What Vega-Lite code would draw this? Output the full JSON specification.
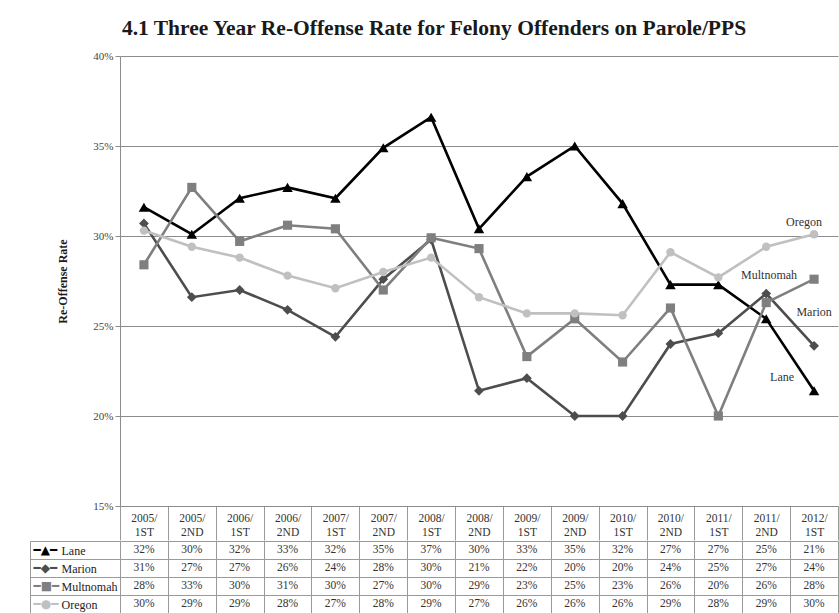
{
  "$schema": "https://vega.github.io/schema/vega-lite/v6.json",
  "background": "white",
  "padding": {"left": 29, "top": 17, "right": 0, "bottom": 0},
  "title": {
    "text": "4.1 Three Year Re-Offense Rate for Felony Offenders on Parole/PPS",
    "font": "Liberation Serif",
    "fontSize": 21.5,
    "fontWeight": "bold",
    "color": "#1a1a1a",
    "anchor": "middle",
    "offset": 11
  },
  "config": {
    "view": {"stroke": null},
    "font": "Liberation Serif",
    "axis": {"labelFont": "Liberation Serif", "titleFont": "Liberation Serif"}
  },
  "datasets": {
    "d": [
      {"period": "2005/1ST", "series": "Lane", "value": 0.316},
      {"period": "2005/2ND", "series": "Lane", "value": 0.301},
      {"period": "2006/1ST", "series": "Lane", "value": 0.321},
      {"period": "2006/2ND", "series": "Lane", "value": 0.327},
      {"period": "2007/1ST", "series": "Lane", "value": 0.321},
      {"period": "2007/2ND", "series": "Lane", "value": 0.349},
      {"period": "2008/1ST", "series": "Lane", "value": 0.366},
      {"period": "2008/2ND", "series": "Lane", "value": 0.304},
      {"period": "2009/1ST", "series": "Lane", "value": 0.333},
      {"period": "2009/2ND", "series": "Lane", "value": 0.35},
      {"period": "2010/1ST", "series": "Lane", "value": 0.318},
      {"period": "2010/2ND", "series": "Lane", "value": 0.273},
      {"period": "2011/1ST", "series": "Lane", "value": 0.273},
      {"period": "2011/2ND", "series": "Lane", "value": 0.254},
      {"period": "2012/1ST", "series": "Lane", "value": 0.214},
      {"period": "2005/1ST", "series": "Marion", "value": 0.307},
      {"period": "2005/2ND", "series": "Marion", "value": 0.266},
      {"period": "2006/1ST", "series": "Marion", "value": 0.27},
      {"period": "2006/2ND", "series": "Marion", "value": 0.259},
      {"period": "2007/1ST", "series": "Marion", "value": 0.244},
      {"period": "2007/2ND", "series": "Marion", "value": 0.276},
      {"period": "2008/1ST", "series": "Marion", "value": 0.298},
      {"period": "2008/2ND", "series": "Marion", "value": 0.214},
      {"period": "2009/1ST", "series": "Marion", "value": 0.221},
      {"period": "2009/2ND", "series": "Marion", "value": 0.2},
      {"period": "2010/1ST", "series": "Marion", "value": 0.2},
      {"period": "2010/2ND", "series": "Marion", "value": 0.24},
      {"period": "2011/1ST", "series": "Marion", "value": 0.246},
      {"period": "2011/2ND", "series": "Marion", "value": 0.268},
      {"period": "2012/1ST", "series": "Marion", "value": 0.239},
      {"period": "2005/1ST", "series": "Multnomah", "value": 0.284},
      {"period": "2005/2ND", "series": "Multnomah", "value": 0.327},
      {"period": "2006/1ST", "series": "Multnomah", "value": 0.297},
      {"period": "2006/2ND", "series": "Multnomah", "value": 0.306},
      {"period": "2007/1ST", "series": "Multnomah", "value": 0.304},
      {"period": "2007/2ND", "series": "Multnomah", "value": 0.27},
      {"period": "2008/1ST", "series": "Multnomah", "value": 0.299},
      {"period": "2008/2ND", "series": "Multnomah", "value": 0.293},
      {"period": "2009/1ST", "series": "Multnomah", "value": 0.233},
      {"period": "2009/2ND", "series": "Multnomah", "value": 0.254},
      {"period": "2010/1ST", "series": "Multnomah", "value": 0.23},
      {"period": "2010/2ND", "series": "Multnomah", "value": 0.26},
      {"period": "2011/1ST", "series": "Multnomah", "value": 0.2},
      {"period": "2011/2ND", "series": "Multnomah", "value": 0.263},
      {"period": "2012/1ST", "series": "Multnomah", "value": 0.276},
      {"period": "2005/1ST", "series": "Oregon", "value": 0.303},
      {"period": "2005/2ND", "series": "Oregon", "value": 0.294},
      {"period": "2006/1ST", "series": "Oregon", "value": 0.288},
      {"period": "2006/2ND", "series": "Oregon", "value": 0.278},
      {"period": "2007/1ST", "series": "Oregon", "value": 0.271},
      {"period": "2007/2ND", "series": "Oregon", "value": 0.28},
      {"period": "2008/1ST", "series": "Oregon", "value": 0.288},
      {"period": "2008/2ND", "series": "Oregon", "value": 0.266},
      {"period": "2009/1ST", "series": "Oregon", "value": 0.257},
      {"period": "2009/2ND", "series": "Oregon", "value": 0.257},
      {"period": "2010/1ST", "series": "Oregon", "value": 0.256},
      {"period": "2010/2ND", "series": "Oregon", "value": 0.291},
      {"period": "2011/1ST", "series": "Oregon", "value": 0.277},
      {"period": "2011/2ND", "series": "Oregon", "value": 0.294},
      {"period": "2012/1ST", "series": "Oregon", "value": 0.301}
    ]
  },
  "vconcat": [
    {
      "width": 718,
      "height": 450,
      "data": {"name": "d"},
      "encoding": {
        "x": {
          "field": "period", "type": "ordinal", "sort": null,
          "scale": {"paddingInner": 0, "paddingOuter": 0},
          "axis": {
            "title": null, "orient": "bottom", "tickBand": "extent", "tickSize": 34,
            "tickColor": "#9a9a9a", "domainColor": "#8c8c8c", "labelAngle": 0,
            "labelExpr": "isValid(datum.value) ? [substring(datum.value,0,5), substring(datum.value,5)] : ''",
            "labelPadding": -28, "labelBaseline": "top", "labelFontSize": 11.5,
            "labelLineHeight": 14, "labelColor": "#333", "labelOverlap": false
          }
        },
        "y": {
          "field": "value", "type": "quantitative",
          "scale": {"domain": [0.15, 0.40], "nice": false, "zero": false},
          "axis": {
            "title": "Re-Offense Rate", "titleFontSize": 12, "titleFontWeight": "bold",
            "titleColor": "#1a1a1a", "titlePadding": 23,
            "values": [0.15, 0.2, 0.25, 0.3, 0.35, 0.4], "format": ".0%",
            "labelFontSize": 11, "labelColor": "#444", "tickSize": 5, "tickColor": "#8c8c8c",
            "domainColor": "#8c8c8c", "grid": true, "gridColor": "#8c8c8c", "gridOpacity": 1
          }
        },
        "color": {
          "field": "series", "type": "nominal",
          "scale": {"domain": ["Lane", "Marion", "Multnomah", "Oregon"], "range": ["#000000", "#4d4d4d", "#7f7f7f", "#c0c0c0"]},
          "legend": null
        }
      },
      "layer": [
        {"mark": {"type": "line", "strokeWidth": 2.6}},
        {
          "mark": {"type": "point", "filled": true, "opacity": 1},
          "encoding": {
            "shape": {"field": "series", "type": "nominal", "scale": {"domain": ["Lane", "Marion", "Multnomah", "Oregon"], "range": ["triangle-up", "diamond", "square", "circle"]}, "legend": null},
            "size": {"field": "series", "type": "nominal", "scale": {"domain": ["Lane", "Marion", "Multnomah", "Oregon"], "range": [110, 70, 80, 85]}, "legend": null}
          }
        },
        {
          "transform": [{"filter": "datum.series === 'Oregon' && datum.period === '2012/1ST'"}],
          "mark": {"type": "text", "dx": -10, "dy": -12, "fontSize": 12, "color": "#333"},
          "encoding": {"text": {"field": "series"}, "color": {"value": "#333"}}
        },
        {
          "transform": [{"filter": "datum.series === 'Multnomah' && datum.period === '2012/1ST'"}],
          "mark": {"type": "text", "dx": -45, "dy": -4, "fontSize": 12, "color": "#333"},
          "encoding": {"text": {"field": "series"}, "color": {"value": "#333"}}
        },
        {
          "transform": [{"filter": "datum.series === 'Marion' && datum.period === '2012/1ST'"}],
          "mark": {"type": "text", "dx": 0, "dy": -34, "fontSize": 12, "color": "#333"},
          "encoding": {"text": {"field": "series"}, "color": {"value": "#333"}}
        },
        {
          "transform": [{"filter": "datum.series === 'Lane' && datum.period === '2012/1ST'"}],
          "mark": {"type": "text", "dx": -32, "dy": -14, "fontSize": 12, "color": "#333"},
          "encoding": {"text": {"field": "series"}, "color": {"value": "#333"}}
        }
      ]
    },
    {
      "width": 718,
      "height": 72,
      "data": {"name": "d"},
      "layer": [
        {
          "mark": {"type": "text", "fontSize": 11.5, "color": "#333"},
          "encoding": {
            "x": {
              "field": "period", "type": "ordinal", "sort": null,
              "scale": {"paddingInner": 0, "paddingOuter": 0},
              "axis": {"title": null, "labels": false, "ticks": false, "domain": false, "grid": true, "tickBand": "extent", "gridColor": "#9a9a9a", "gridOpacity": 1}
            },
            "y": {
              "field": "series", "type": "nominal", "sort": ["Lane", "Marion", "Multnomah", "Oregon"],
              "scale": {"paddingInner": 0, "paddingOuter": 0},
              "axis": {"title": null, "orient": "left", "grid": true, "gridColor": "#9a9a9a", "gridOpacity": 1, "tickBand": "extent", "tickSize": 90, "tickColor": "#9a9a9a", "domain": false, "labelAlign": "left", "labelPadding": -31, "labelFontSize": 12, "labelColor": "#222"}
            },
            "text": {"field": "value", "type": "quantitative", "format": ".0%"}
          }
        },
        {
          "mark": {"type": "text", "opacity": 0},
          "encoding": {
            "y": {
              "field": "series", "type": "nominal", "sort": ["Lane", "Marion", "Multnomah", "Oregon"],
              "scale": {"paddingInner": 0, "paddingOuter": 0},
              "axis": {
                "title": null, "orient": "left", "offset": 90, "domain": true, "domainColor": "#9a9a9a",
                "ticks": false, "tickSize": 0, "grid": false, "labelAlign": "left", "labelPadding": -3,
                "labelFont": "DejaVu Sans", "labelFontSize": 12,
                "labelExpr": "datum.value === 'Lane' ? '━▲━' : datum.value === 'Marion' ? '━◆━' : datum.value === 'Multnomah' ? '━■━' : '━●━'",
                "labelColor": {"condition": [{"test": "datum.value === 'Lane'", "value": "#000000"}, {"test": "datum.value === 'Marion'", "value": "#4d4d4d"}, {"test": "datum.value === 'Multnomah'", "value": "#7f7f7f"}], "value": "#c0c0c0"}
              }
            },
            "text": {"field": "series"}
          }
        }
      ],
      "resolve": {"axis": {"y": "independent"}}
    }
  ],
  "spacing": -8
}
